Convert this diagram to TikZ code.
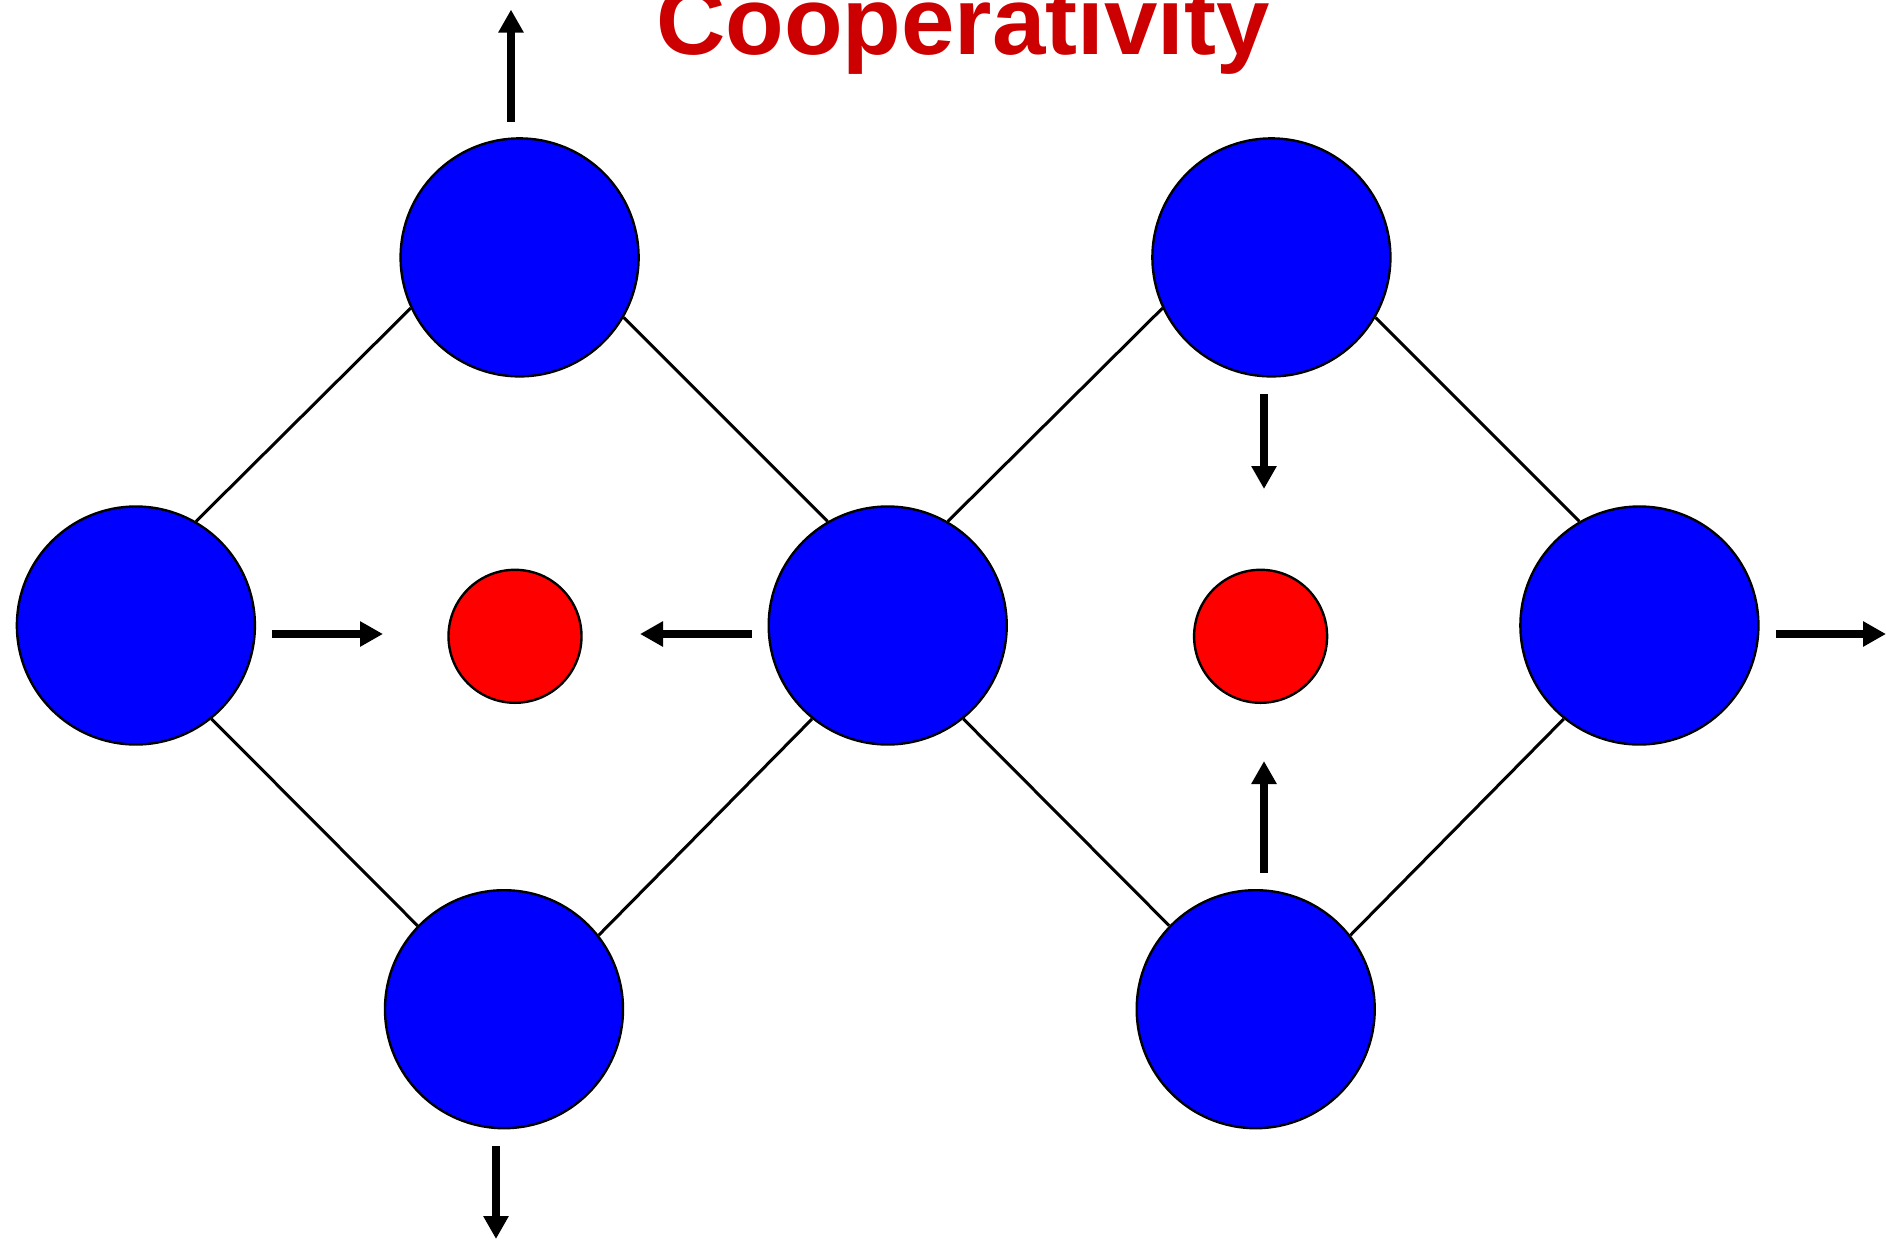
\documentclass[tikz,border=0pt]{standalone}
\usepackage{fontspec}
\setmainfont{Liberation Sans}
\usetikzlibrary{arrows.meta}
\definecolor{titlered}{RGB}{204,0,0}

\begin{document}
\begin{tikzpicture}[x=1pt,y=-1pt,
  site/.style={circle,draw=black,line width=2.4pt,fill=blue,minimum size=238pt,inner sep=0pt},
  ion/.style={circle,draw=black,line width=2.4pt,fill=red,minimum size=133pt,inner sep=0pt},
  link/.style={line width=3pt,black},
  push/.style={line width=8pt,black,-{Triangle[length=23pt,width=24pt]}}]
\useasboundingbox (0,0) rectangle (1886,1239);
\clip (0,0) rectangle (1886,1239);

% title
\node[anchor=base west,inner sep=0pt,text=titlered,
      font=\bfseries\fontsize{96}{96}\selectfont] (title) at (656,55)
  {Cooperativity};

% binding sites
\node[site] (TL) at (519.6,257.4) {};
\node[site] (TR) at (1271.4,257.4) {};
\node[site] (L)  at (135.9,625.5) {};
\node[site] (C)  at (887.7,625.5) {};
\node[site] (R)  at (1639.4,625.5) {};
\node[site] (BL) at (504,1009.2) {};
\node[site] (BR) at (1255.7,1009.2) {};

% ions
\node[ion] (P1) at (515,636.3) {};
\node[ion] (P2) at (1260.6,636.3) {};

% links between sites
\draw[link] (L.60)   -- (TL.205);
\draw[link] (TL.330) -- (C.120);
\draw[link] (L.309)  -- (BL.136);
\draw[link] (BL.38.5) -- (C.231.5);
\draw[link] (C.60)   -- (TR.205);
\draw[link] (TR.330) -- (R.120);
\draw[link] (C.309)  -- (BR.136);
\draw[link] (BR.38.5) -- (R.231.5);

% motion arrows
\coordinate (a1s) at (511,121.5);  \coordinate (a1e) at (511,9.6);
\coordinate (a2s) at (272,634);    \coordinate (a2e) at (383,634);
\coordinate (a3s) at (751.7,634);  \coordinate (a3e) at (640,634);
\coordinate (a4s) at (1264,394);   \coordinate (a4e) at (1264,489);
\coordinate (a5s) at (1264,873);   \coordinate (a5e) at (1264,761);
\coordinate (a6s) at (496,1146);   \coordinate (a6e) at (496,1239);
\coordinate (a7s) at (1776,634);   \coordinate (a7e) at (1886,634);
\foreach \k in {1,...,7}{\draw[push] (a\k s) -- (a\k e);}
\end{tikzpicture}
\end{document}
